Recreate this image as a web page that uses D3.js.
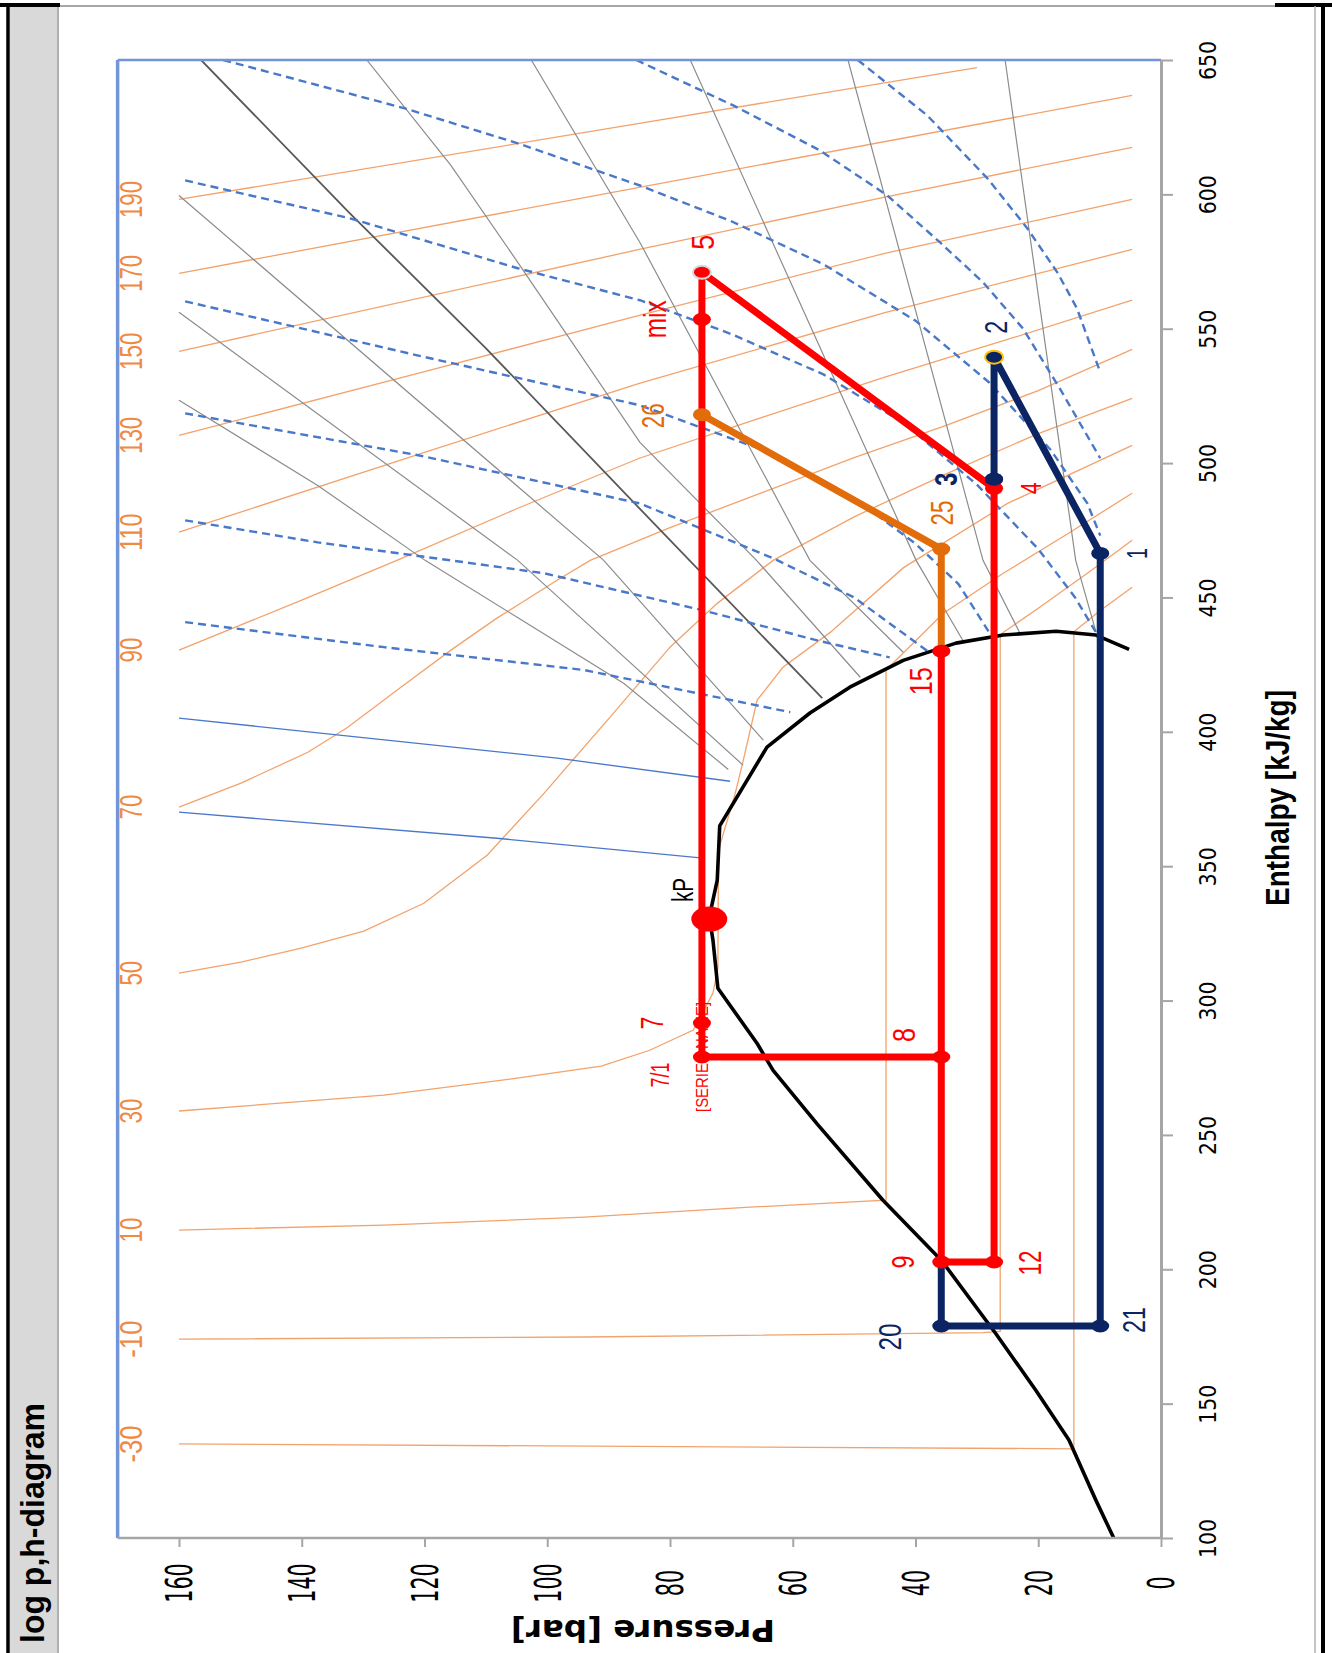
<!DOCTYPE html>
<html>
<head>
<meta charset="utf-8">
<script src="https://cdn.jsdelivr.net/npm/d3@7"></script>
<style>
  body { margin: 0; background: #fff; }
  svg { display: block; font-family: "Liberation Sans", Arial, sans-serif; }
</style>
</head>
<body>
<svg id="chart" width="1332" height="1653"></svg>
<script>
// ---- axis ticks ----
const pressureTicks = [0, 20, 40, 60, 80, 100, 120, 140, 160];
const enthalpyTicks = [100, 150, 200, 250, 300, 350, 400, 450, 500, 550, 600, 650];

// ---- saturation dome, [p bar, h kJ/kg] ----
const saturationDome = [
  [7.7, 100], [10.6, 114], [15.0, 136.5], [20.4, 155], [26.9, 176], [35.8, 203.4],
  [45.3, 225.7], [56.0, 254], [63.2, 274], [65.8, 284], [72.2, 304.6], [73.0, 322.5],
  [73.6, 331], [72.3, 344.8], [71.9, 365], [64.2, 394.3], [57.2, 407], [50.7, 416.6],
  [42.0, 426.6], [33.4, 433], [25.7, 436], [17.1, 437.4], [10.6, 436], [5.2, 430.7]
];

// ---- isotherms (°C) ----
const isothermTemps = [-30, -10, 10, 30, 50, 70, 90, 110, 130, 150, 170, 190];
const isothermPoints = [
  [[160, 135], [14.2, 133.2], [14.2, 437.2], [10, 445], [4.7, 453.8]],
  [[160, 174], [94, 174.8], [29, 176.4], [26.2, 176.9], [26.2, 436.2], [20, 446], [12, 459], [4.7, 471.3]],
  [[160, 214.6], [126.6, 216.4], [94, 219.4], [67, 223.1], [44.8, 225.7], [44.8, 423], [35.5, 444], [25.7, 459], [15, 474], [4.7, 488.8]],
  [[160, 258.9], [126.6, 264.8], [104.9, 271.1], [91.2, 275.6], [83.3, 281.5], [76.2, 289], [73, 302.8], [72.2, 312],
   [72.1, 356], [69.5, 376], [68.1, 389], [65.8, 411.8], [61.6, 424], [53.9, 437], [42, 461], [25, 485], [4.7, 506.6]],
  [[160, 310.2], [149.9, 314.3], [140.1, 319.5], [129.9, 325.8], [120.1, 336.2], [109.8, 354.1], [100.5, 377.2],
   [89.8, 405.4], [80, 431.5], [72.3, 447.8], [63.2, 463.8], [50, 480], [35, 496], [20, 511], [4.7, 524.1]],
  [[160, 372], [149.9, 380.9], [139, 392.4], [132.5, 401.7], [124.5, 415.5], [115.7, 430.4], [108.2, 442.3],
   [98.4, 456.4], [93, 463.8], [80, 476], [65, 489], [50, 502], [35, 514], [20, 527], [4.7, 542.3]],
  [[160, 430.4], [140, 449], [124.5, 463.8], [105, 483], [85, 501.8], [65, 517], [45, 532], [25, 546], [4.7, 560.6]],
  [[160, 474.3], [120, 504], [85, 529.7], [45, 556], [4.7, 579.5]],
  [[160, 510.3], [120, 534], [85, 555], [45, 578], [4.7, 598.1]],
  [[160, 541.6], [85, 579.5], [45, 599], [4.7, 617.5]],
  [[160, 570.6], [85, 602.6], [4.7, 636.8]],
  [[160, 598.1], [85, 626.4], [30, 647.2]]
];

// ---- isentropes ----
const isentropesDashed = [
  [[49.4, 650], [38.1, 629.4], [28.3, 606], [21.8, 587.4], [16.9, 571], [13.7, 557.6], [9.9, 533.8]],
  [[85.5, 650], [69.7, 633.1], [55.6, 616.4], [44.6, 599.6], [36, 582.1], [29, 567.3], [22.5, 550.1], [16.5, 527.8], [9.9, 501.8]],
  [[152.8, 650], [123.2, 632], [104.8, 619], [84.9, 603.3], [70, 590], [55, 574], [40, 553], [28, 530], [18, 505], [12, 485], [9.9, 473]],
  [[159, 605.2], [132, 591], [104.8, 572.5], [84.9, 560.6], [70, 548], [55, 533], [42, 515], [30, 492], [20, 468], [14, 450], [10.6, 437]],
  [[159, 560.2], [121, 540], [84.9, 521.5], [65, 505], [50, 487], [40, 470], [33, 455], [28, 437]],
  [[159, 518.5], [121, 502.9], [84.9, 485], [63.2, 464.6], [50, 450], [38, 430]],
  [[159, 478.7], [137.4, 470.5], [115.7, 463.8], [100.5, 459], [74.6, 445.2], [56, 434], [44.2, 427.7]],
  [[159, 440.8], [126.6, 431.5], [94, 423], [75.6, 414.4], [60.4, 407.3]]
];
const isentropesSolid = [
  [[160, 405.1], [98.4, 390.2], [70.2, 381.6]],
  [[160, 370.1], [108.2, 360.4], [74.6, 353]]
];

// ---- isochores ----
const isochores = [
  [[160, 523.4], [137.4, 491.7], [119.9, 463.8], [104.9, 442.6], [87.5, 418], [70.5, 386]],
  [[160, 556.1], [104.8, 463.8], [68.1, 387.6]],
  [[160, 599.6], [90.8, 463.8], [64.8, 396.9]],
  [[129.4, 650], [115.7, 610.8], [104.8, 574.7], [84.9, 507.7], [65.9, 463.8], [49, 420.3]],
  [[102.6, 650], [84.9, 582.1], [57.2, 463.8], [42, 429.6]],
  [[76.7, 650], [39.9, 463.8], [32.3, 434.1]],
  [[51, 650], [29, 463.8], [23, 436.8]],
  [[25.4, 650], [13.9, 463.8], [10.6, 437.2]]
];
const isochoreDark = [[156.4, 650], [132.2, 593], [110.1, 543], [84.9, 483], [55.2, 412.5]];

// ---- cycle state points [name, p, h] ----
const statePoints = [
  ["1", 9.9, 466.4], ["2", 27.2, 539.4], ["3", 27.2, 494.0], ["4", 27.2, 490.6],
  ["5", 74.8, 571.0], ["mix", 74.8, 553.5], ["26", 74.8, 518.0], ["25", 35.8, 468.0],
  ["15", 35.8, 430.0], ["kP", 73.6, 330.3], ["7", 74.8, 291.6], ["7/1", 74.8, 279.0],
  ["8", 35.8, 279.0], ["9", 35.8, 202.7], ["12", 27.2, 202.7], ["20", 35.8, 178.9], ["21", 9.9, 178.9]
];
const redRoute = ["7/1", "7", "mix", "5", "4", "12", "9", "8", "15"];
const redBranch = ["7/1", "8"];
const orangeRoute = ["15", "25", "26"];
const navyRoute = ["9", "20", "21", "1", "2", "3"];

// ---------------------------------------------------------------
const RED = "#ff0000", NAVY = "#0b2463", ORANGE = "#e36c0a";
const svg = d3.select("#chart");

const x = d3.scaleLinear().domain([0, 160]).range([1161, 179]);
const y = d3.scaleLinear().domain([100, 650]).range([1538, 60]);
const plotLeft = x(170), plotRight = x(0), plotTop = y(650), plotBottom = y(100);

const line = d3.line().x((d) => x(d[0])).y((d) => y(d[1]));

// label helper: rotated, squeezed text like the original
function rtext(g, str, cx, cy, size, len, color, opts = {}) {
  return g.append("text")
    .attr("transform", `translate(${cx},${cy}) rotate(${opts.rot ?? -90})`)
    .attr("text-anchor", "middle")
    .attr("dy", opts.dy ?? "0.35em")
    .attr("font-size", size)
    .attr("font-weight", opts.weight || "normal")
    .attr("font-family", opts.family || null)
    .attr("textLength", len)
    .attr("lengthAdjust", "spacingAndGlyphs")
    .attr("fill", color)
    .text(str);
}

// ---- outer frame ----
svg.append("rect").attr("x", 10).attr("y", 6).attr("width", 47).attr("height", 1653).attr("fill", "#d9d9d9");
svg.append("line").attr("x1", 58).attr("x2", 58).attr("y1", 6).attr("y2", 1653).attr("stroke", "#b0b0b0").attr("stroke-width", 2);
svg.append("line").attr("x1", 8).attr("x2", 8).attr("y1", 3).attr("y2", 1653).attr("stroke", "#000").attr("stroke-width", 3.5);
svg.append("line").attr("x1", 58).attr("x2", 1318).attr("y1", 6).attr("y2", 6).attr("stroke", "#a6a6a6").attr("stroke-width", 2);
svg.append("line").attr("x1", 0).attr("x2", 60).attr("y1", 5).attr("y2", 5).attr("stroke", "#000").attr("stroke-width", 4);
svg.append("line").attr("x1", 1275).attr("x2", 1332).attr("y1", 5).attr("y2", 5).attr("stroke", "#000").attr("stroke-width", 4);
svg.append("line").attr("x1", 1315).attr("x2", 1315).attr("y1", 6).attr("y2", 1653).attr("stroke", "#b0b0b0").attr("stroke-width", 1.5);
svg.append("line").attr("x1", 1323).attr("x2", 1323).attr("y1", 3).attr("y2", 1653).attr("stroke", "#000").attr("stroke-width", 4);

rtext(svg, "log p,h-diagram", 44, 1523, 33, 240, "#000", { weight: "bold", dy: "0" });

// ---- plot content ----
const defs = svg.append("defs");
defs.append("clipPath").attr("id", "clip").append("rect")
  .attr("x", plotLeft).attr("y", plotTop).attr("width", plotRight - plotLeft).attr("height", plotBottom - plotTop);
const g = svg.append("g").attr("clip-path", "url(#clip)");

// isotherms
g.append("g").selectAll("path").data(isothermPoints).join("path")
  .attr("d", line).attr("fill", "none").attr("stroke", "#f3a26b").attr("stroke-width", 1.3);

// isochores
g.append("g").selectAll("path").data(isochores).join("path")
  .attr("d", line).attr("fill", "none").attr("stroke", "#8c8c8c").attr("stroke-width", 1.2);
g.append("path").datum(isochoreDark).attr("d", line).attr("fill", "none")
  .attr("stroke", "#595959").attr("stroke-width", 1.8);

// isentropes
g.append("g").selectAll("path").data(isentropesDashed).join("path")
  .attr("d", line).attr("fill", "none").attr("stroke", "#4a78c8").attr("stroke-width", 2.4)
  .attr("stroke-dasharray", "8,5");
g.append("g").selectAll("path").data(isentropesSolid).join("path")
  .attr("d", line).attr("fill", "none").attr("stroke", "#4a78c8").attr("stroke-width", 1.3);

// saturation dome
g.append("path").datum(saturationDome).attr("d", line).attr("fill", "none")
  .attr("stroke", "#000").attr("stroke-width", 3.6).attr("stroke-linejoin", "round");

// plot frame (top/left blue)
svg.append("line").attr("x1", plotLeft).attr("x2", plotRight).attr("y1", plotTop).attr("y2", plotTop)
  .attr("stroke", "#7195d8").attr("stroke-width", 2.5);
svg.append("line").attr("x1", plotLeft).attr("x2", plotLeft).attr("y1", plotTop).attr("y2", plotBottom)
  .attr("stroke", "#7195d8").attr("stroke-width", 3.5);

// isotherm labels at the start of each line
isothermPoints.forEach((pts, i) => {
  const t = String(isothermTemps[i]);
  rtext(svg, t, 131, y(pts[0][1]), 32, 12.4 * t.length, "#ef8a45");
});

// ---- axes ----
const xAxis = svg.append("g").attr("transform", `translate(0,${plotBottom})`)
  .call(d3.axisBottom(x).tickValues(pressureTicks).tickSize(9).tickSizeOuter(0).tickFormat(d3.format("d")));
xAxis.select(".domain").attr("d", `M${plotLeft},0H${plotRight}`).attr("stroke", "#a6a6a6").attr("stroke-width", 2.5);
xAxis.selectAll(".tick line").attr("stroke", "#a6a6a6").attr("stroke-width", 2);
xAxis.selectAll(".tick text").remove();
xAxis.selectAll(".tick").each(function (d) {
  const s = String(d);
  rtext(d3.select(this), s, 0, 45, 37, 13.2 * s.length, "#000", { family: "DejaVu Sans" });
});

const yAxis = svg.append("g").attr("transform", `translate(${plotRight},0)`)
  .call(d3.axisRight(y).tickValues(enthalpyTicks).tickSize(12).tickSizeOuter(0));
yAxis.select(".domain").attr("stroke", "#a6a6a6").attr("stroke-width", 3);
yAxis.selectAll(".tick line").attr("stroke", "#a6a6a6").attr("stroke-width", 2);
yAxis.selectAll(".tick text").remove();
yAxis.selectAll(".tick").each(function (d) {
  const s = String(d);
  rtext(d3.select(this), s, 47, 0, 23, 13 * s.length, "#000", { family: "DejaVu Sans" });
});

rtext(svg, "Enthalpy [kJ/kg]", 1289, 798, 34, 216, "#000", { weight: "bold", dy: "0" });
rtext(svg, "Pressure [bar]", 643, 1620, 30, 264, "#000", { weight: "bold", rot: 180, dy: "0", family: "DejaVu Sans" });

// ---- cycle ----
const byName = new Map(statePoints.map((d) => [d[0], [d[1], d[2]]]));
const route = (ids) => ids.map((id) => byName.get(id));
const cyc = svg.append("g");

function drawRoute(ids, color) {
  cyc.append("path").datum(route(ids)).attr("d", line).attr("fill", "none")
    .attr("stroke", color).attr("stroke-width", 7).attr("stroke-linejoin", "round");
}
drawRoute(orangeRoute, ORANGE);
drawRoute(redRoute, RED);
drawRoute(redBranch, RED);
drawRoute(navyRoute, NAVY);

// [SERIES NAME] data label sits under the 7/1 marker
rtext(cyc, "[SERIES NAME]", x(74.8), y(279), 16, 110, RED);

const markerColor = {
  "1": NAVY, "2": NAVY, "3": NAVY, "20": NAVY, "21": NAVY, "25": ORANGE, "26": ORANGE
};
const markerStroke = { "2": "#ffc000", "5": "#d8d8d8" };
statePoints.forEach(([id, p, h]) => {
  const big = id === "kP";
  cyc.append("ellipse")
    .attr("cx", x(p)).attr("cy", y(h))
    .attr("rx", big ? 18 : 9).attr("ry", big ? 12.5 : 6.5)
    .attr("fill", markerColor[id] || RED)
    .attr("stroke", markerStroke[id] || "none").attr("stroke-width", 2);
});
// navy 3 on top of red 4
const p3 = byName.get("3");
cyc.append("ellipse").attr("cx", x(p3[0])).attr("cy", y(p3[1])).attr("rx", 9).attr("ry", 6.5).attr("fill", NAVY);

// labels: [dx, dy, colour, font size, length, weight]
const labelStyle = {
  "1": [36, 0, NAVY, 30, 11], "2": [2, -30, NAVY, 32, 13], "3": [-48, 0, NAVY, 32, 13, "bold"],
  "4": [36, 0, RED, 30, 12], "5": [1, -30, RED, 32, 15], "mix": [-47, 0, RED, 32, 38],
  "26": [-49, 1, ORANGE, 32, 25], "25": [1, -36, ORANGE, 32, 25], "15": [-20, 30, RED, 32, 28],
  "kP": [-27, -29, "#000", 30, 24], "7": [-50, 0, RED, 32, 13], "7/1": [-42, 18, RED, 26, 25],
  "8": [-37, -22, RED, 32, 14], "9": [-38, 0, RED, 32, 13], "12": [36, 1, RED, 32, 25],
  "20": [-51, 11, NAVY, 32, 27], "21": [34, -6, NAVY, 32, 26]
};
statePoints.forEach(([id, p, h]) => {
  const s = labelStyle[id];
  rtext(cyc, id, x(p) + s[0], y(h) + s[1], s[3], s[4], s[2], { weight: s[5] });
});
</script>
</body>
</html>
